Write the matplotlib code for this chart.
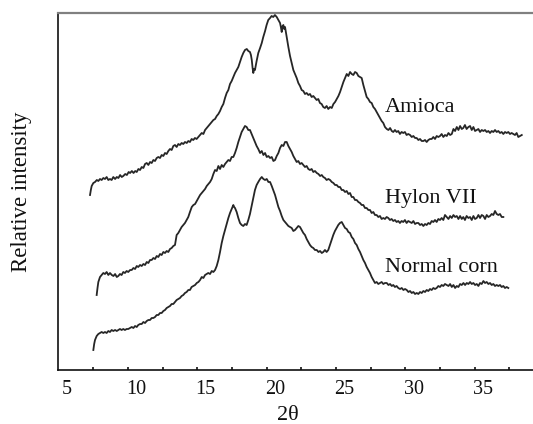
import matplotlib
matplotlib.use("Agg")
import matplotlib.pyplot as plt
import numpy as np

# ---------------- data: (2θ, intensity) ----------------
amioca = [
    (6.66, 175), (6.72, 180), (6.78, 184), (6.90, 187), (7.02, 188), (7.15, 190), (7.26, 189),
    (7.38, 191), (7.50, 190), (7.62, 192), (7.74, 191), (7.86, 193), (7.98, 190), (8.10, 191),
    (8.22, 190), (8.34, 193), (8.47, 191), (8.59, 193), (8.71, 192), (8.83, 195), (8.95, 193),
    (9.06, 194), (9.20, 196), (9.32, 195), (9.45, 198), (9.55, 197), (9.68, 199), (9.80, 197),
    (9.92, 199), (10.03, 198), (10.15, 201), (10.27, 200), (10.39, 203), (10.51, 202),
    (10.63, 206), (10.75, 207), (10.87, 205), (10.99, 208), (11.11, 207), (11.23, 210),
    (11.35, 209), (11.47, 212), (11.59, 213), (11.71, 212), (11.83, 215), (11.95, 214),
    (12.07, 217), (12.19, 216), (12.31, 219), (12.43, 221), (12.55, 220), (12.67, 224),
    (12.79, 225), (12.91, 223), (13.03, 226), (13.15, 225), (13.27, 227), (13.39, 226),
    (13.51, 228), (13.64, 227), (13.75, 229), (13.87, 228), (13.99, 231), (14.11, 230),
    (14.23, 232), (14.35, 231), (14.47, 233), (14.60, 235), (14.72, 237), (14.84, 236),
    (14.96, 240), (15.08, 242), (15.20, 244), (15.32, 246), (15.44, 248), (15.56, 250),
    (15.68, 251), (15.80, 254), (15.92, 256), (16.04, 259), (16.16, 263), (16.28, 266),
    (16.40, 272), (16.52, 277), (16.64, 280), (16.76, 286), (16.88, 289), (17.00, 293),
    (17.12, 297), (17.24, 300), (17.36, 303), (17.48, 308), (17.60, 313), (17.72, 317),
    (17.84, 320), (17.97, 321), (18.08, 319), (18.20, 318), (18.27, 315), (18.33, 310),
    (18.39, 302), (18.44, 297), (18.50, 301), (18.56, 300), (18.68, 309), (18.80, 317),
    (18.93, 322), (19.05, 327), (19.16, 333), (19.29, 339), (19.40, 345), (19.52, 350),
    (19.65, 352), (19.76, 354), (19.88, 353), (20.00, 355), (20.13, 353), (20.25, 350),
    (20.37, 347), (20.43, 343), (20.49, 338), (20.55, 344), (20.61, 345), (20.67, 341),
    (20.73, 343), (20.85, 333), (20.97, 323), (21.09, 314), (21.21, 307), (21.33, 300),
    (21.45, 296), (21.57, 292), (21.69, 287), (21.81, 284), (21.93, 280), (22.05, 279),
    (22.17, 276), (22.29, 277), (22.41, 275), (22.53, 276), (22.65, 273), (22.77, 274),
    (22.89, 272), (23.01, 270), (23.13, 271), (23.25, 267), (23.37, 266), (23.49, 263),
    (23.61, 262), (23.73, 264), (23.85, 261), (23.98, 263), (24.10, 262), (24.22, 266),
    (24.34, 268), (24.46, 271), (24.58, 274), (24.70, 278), (24.82, 283), (24.94, 288),
    (25.06, 292), (25.18, 296), (25.30, 294), (25.42, 298), (25.54, 296), (25.66, 295),
    (25.78, 298), (25.90, 297), (26.02, 294), (26.14, 293), (26.26, 292), (26.38, 285),
    (26.50, 279), (26.62, 273), (26.74, 271), (26.86, 268), (26.98, 267), (27.10, 263),
    (27.22, 261), (27.34, 258), (27.46, 255), (27.58, 252), (27.70, 249), (27.82, 247),
    (27.94, 243), (28.07, 241), (28.19, 240), (28.31, 242), (28.43, 239), (28.54, 238),
    (28.66, 240), (28.78, 238), (28.90, 239), (29.02, 236), (29.14, 238), (29.26, 237),
    (29.38, 238), (29.50, 235), (29.62, 236), (29.75, 235), (29.87, 233), (29.99, 234),
    (30.11, 232), (30.23, 232), (30.35, 230), (30.47, 231), (30.59, 229), (30.71, 229),
    (30.83, 230), (30.95, 228), (31.07, 230), (31.19, 231), (31.31, 231), (31.43, 233),
    (31.55, 231), (31.67, 234), (31.79, 233), (31.91, 234), (32.03, 236), (32.15, 233),
    (32.27, 235), (32.40, 234), (32.52, 237), (32.64, 235), (32.76, 236), (32.88, 241),
    (33.00, 239), (33.12, 243), (33.24, 240), (33.36, 244), (33.48, 241), (33.59, 242),
    (33.71, 245), (33.83, 241), (33.96, 243), (34.08, 244), (34.20, 240), (34.32, 243),
    (34.44, 239), (34.56, 240), (34.68, 241), (34.80, 238), (34.92, 240), (35.04, 239),
    (35.16, 240), (35.28, 238), (35.40, 239), (35.52, 237), (35.64, 239), (35.76, 238),
    (35.88, 240), (36.00, 238), (36.12, 239), (36.24, 237), (36.36, 238), (36.48, 236),
    (36.60, 238), (36.72, 237), (36.84, 238), (36.96, 236), (37.08, 237), (37.20, 236),
    (37.32, 235), (37.44, 237), (37.56, 233), (37.68, 234), (37.81, 235),
]

hylon = [
    (7.14, 75), (7.20, 82), (7.26, 88), (7.38, 93), (7.50, 95), (7.62, 97), (7.74, 96),
    (7.86, 98), (7.98, 95), (8.10, 97), (8.23, 95), (8.35, 94), (8.47, 96), (8.59, 93),
    (8.70, 94), (8.82, 96), (8.94, 95), (9.06, 98), (9.18, 97), (9.30, 99), (9.42, 98),
    (9.55, 100), (9.67, 100), (9.79, 102), (9.91, 101), (10.03, 104), (10.14, 103),
    (10.27, 105), (10.39, 104), (10.51, 106), (10.63, 105), (10.75, 108), (10.87, 107),
    (10.99, 110), (11.11, 110), (11.23, 112), (11.35, 111), (11.47, 114), (11.59, 113),
    (11.71, 116), (11.83, 115), (11.95, 118), (12.07, 117), (12.19, 119), (12.31, 118),
    (12.43, 121), (12.55, 122), (12.67, 124), (12.79, 125), (12.85, 130), (12.91, 135),
    (13.03, 137), (13.15, 140), (13.27, 143), (13.39, 145), (13.51, 147), (13.63, 150),
    (13.75, 153), (13.87, 158), (14.00, 163), (14.12, 165), (14.24, 166), (14.36, 169),
    (14.48, 172), (14.60, 175), (14.72, 177), (14.84, 179), (14.96, 181), (15.08, 184),
    (15.20, 186), (15.32, 188), (15.44, 191), (15.56, 196), (15.68, 200), (15.80, 199),
    (15.92, 204), (16.04, 201), (16.16, 205), (16.28, 203), (16.40, 206), (16.52, 208),
    (16.64, 210), (16.76, 209), (16.88, 213), (17.00, 213), (17.12, 217), (17.24, 222),
    (17.36, 228), (17.48, 233), (17.60, 238), (17.72, 241), (17.84, 244), (17.96, 243),
    (18.08, 240), (18.20, 240), (18.32, 236), (18.44, 232), (18.56, 228), (18.68, 224),
    (18.80, 221), (18.93, 217), (19.05, 219), (19.17, 215), (19.29, 217), (19.41, 213),
    (19.53, 214), (19.65, 212), (19.77, 213), (19.89, 209), (20.01, 210), (20.13, 214),
    (20.25, 217), (20.37, 222), (20.49, 225), (20.61, 224), (20.73, 228), (20.85, 228),
    (20.97, 224), (21.09, 221), (21.21, 218), (21.33, 214), (21.45, 211), (21.57, 208),
    (21.69, 209), (21.81, 206), (21.93, 207), (22.05, 205), (22.17, 203), (22.29, 204),
    (22.41, 201), (22.53, 200), (22.65, 201), (22.77, 198), (22.89, 199), (23.02, 197),
    (23.14, 196), (23.26, 194), (23.38, 195), (23.49, 193), (23.61, 192), (23.73, 190),
    (23.86, 191), (23.98, 190), (24.10, 188), (24.22, 187), (24.34, 185), (24.46, 185),
    (24.58, 183), (24.70, 183), (24.82, 180), (24.94, 180), (25.06, 178), (25.18, 179),
    (25.30, 176), (25.42, 177), (25.54, 173), (25.66, 173), (25.78, 170), (25.90, 170),
    (26.02, 168), (26.14, 167), (26.26, 165), (26.38, 165), (26.50, 162), (26.62, 162),
    (26.74, 160), (26.86, 160), (26.98, 157), (27.10, 158), (27.22, 155), (27.34, 155),
    (27.46, 153), (27.58, 154), (27.70, 151), (27.82, 152), (27.94, 151), (28.06, 153),
    (28.18, 152), (28.30, 150), (28.42, 151), (28.54, 149), (28.66, 150), (28.78, 148),
    (28.90, 149), (29.02, 147), (29.14, 149), (29.26, 148), (29.38, 150), (29.50, 147),
    (29.62, 149), (29.75, 148), (29.87, 147), (29.99, 149), (30.11, 146), (30.23, 147),
    (30.35, 147), (30.47, 145), (30.59, 146), (30.71, 144), (30.83, 146), (30.95, 145),
    (31.07, 147), (31.19, 146), (31.31, 149), (31.43, 148), (31.55, 150), (31.67, 148),
    (31.79, 151), (31.91, 150), (32.03, 152), (32.15, 150), (32.27, 155), (32.40, 153),
    (32.52, 151), (32.64, 154), (32.76, 152), (32.88, 155), (33.00, 153), (33.12, 154),
    (33.24, 151), (33.36, 154), (33.48, 151), (33.59, 153), (33.71, 150), (33.83, 154),
    (33.96, 152), (34.08, 153), (34.20, 150), (34.32, 154), (34.44, 151), (34.56, 152),
    (34.68, 155), (34.80, 152), (34.92, 155), (35.04, 154), (35.16, 151), (35.28, 155),
    (35.40, 153), (35.52, 154), (35.64, 156), (35.76, 155), (35.88, 159), (36.00, 156),
    (36.12, 155), (36.24, 156), (36.36, 153), (36.48, 153),
]

normal_corn = [
    (6.90, 20), (6.96, 26), (7.02, 30), (7.14, 34), (7.26, 36), (7.38, 37), (7.50, 38),
    (7.62, 37), (7.74, 38), (7.86, 37), (7.98, 39), (8.10, 38), (8.22, 40), (8.34, 39),
    (8.47, 40), (8.59, 39), (8.70, 40), (8.82, 41), (8.94, 40), (9.06, 41), (9.18, 40),
    (9.30, 41), (9.42, 41), (9.55, 42), (9.67, 43), (9.79, 42), (9.91, 44), (10.03, 43),
    (10.14, 45), (10.27, 46), (10.39, 46), (10.51, 48), (10.63, 47), (10.75, 49),
    (10.87, 50), (10.99, 50), (11.11, 52), (11.23, 52), (11.35, 53), (11.47, 55),
    (11.59, 55), (11.71, 57), (11.83, 57), (11.95, 59), (12.07, 60), (12.19, 62),
    (12.31, 63), (12.43, 64), (12.55, 66), (12.67, 66), (12.79, 68), (12.91, 70),
    (13.03, 71), (13.15, 72), (13.27, 74), (13.39, 75), (13.51, 77), (13.63, 78),
    (13.75, 80), (13.87, 80), (13.99, 83), (14.11, 84), (14.24, 85), (14.36, 87),
    (14.48, 88), (14.60, 90), (14.72, 93), (14.84, 92), (14.96, 95), (15.08, 96),
    (15.19, 97), (15.32, 96), (15.44, 99), (15.56, 98), (15.68, 100), (15.80, 104),
    (15.92, 110), (16.04, 118), (16.16, 127), (16.28, 134), (16.40, 140), (16.52, 146),
    (16.64, 152), (16.76, 157), (16.88, 161), (17.00, 165), (17.06, 163), (17.12, 162),
    (17.24, 158), (17.36, 152), (17.48, 147), (17.60, 145), (17.72, 144), (17.84, 146),
    (17.96, 145), (18.08, 150), (18.20, 156), (18.32, 164), (18.44, 172), (18.56, 180),
    (18.68, 185), (18.80, 188), (18.93, 191), (19.05, 193), (19.17, 191), (19.29, 190),
    (19.41, 191), (19.53, 188), (19.65, 188), (19.77, 184), (19.88, 180), (20.01, 175),
    (20.13, 169), (20.25, 163), (20.37, 159), (20.49, 154), (20.61, 150), (20.73, 148),
    (20.85, 146), (20.97, 144), (21.09, 143), (21.21, 142), (21.33, 139), (21.45, 140),
    (21.57, 142), (21.69, 144), (21.81, 143), (21.93, 140), (22.05, 137), (22.17, 135),
    (22.29, 131), (22.41, 128), (22.53, 125), (22.65, 123), (22.77, 122), (22.89, 120),
    (23.02, 120), (23.14, 118), (23.26, 119), (23.38, 117), (23.49, 118), (23.61, 120),
    (23.73, 118), (23.85, 120), (23.97, 125), (24.09, 130), (24.21, 135), (24.33, 139),
    (24.45, 142), (24.57, 145), (24.69, 147), (24.82, 148), (24.94, 145), (25.06, 142),
    (25.18, 141), (25.30, 138), (25.42, 137), (25.54, 133), (25.66, 131), (25.78, 127),
    (25.90, 125), (26.02, 121), (26.14, 118), (26.26, 114), (26.38, 110), (26.50, 107),
    (26.62, 103), (26.74, 100), (26.86, 97), (26.98, 93), (27.10, 90), (27.22, 87),
    (27.34, 88), (27.46, 86), (27.58, 87), (27.70, 88), (27.82, 86), (27.94, 87),
    (28.07, 87), (28.19, 85), (28.31, 86), (28.43, 84), (28.54, 85), (28.66, 83),
    (28.78, 84), (28.90, 82), (29.03, 81), (29.15, 82), (29.27, 80), (29.39, 81),
    (29.51, 80), (29.63, 78), (29.75, 79), (29.87, 77), (29.99, 78), (30.11, 76),
    (30.23, 77), (30.35, 76), (30.47, 78), (30.59, 77), (30.71, 79), (30.83, 78),
    (30.95, 80), (31.07, 79), (31.19, 81), (31.31, 80), (31.43, 82), (31.55, 81),
    (31.67, 82), (31.79, 84), (31.91, 83), (32.03, 85), (32.15, 84), (32.27, 86),
    (32.40, 85), (32.52, 84), (32.64, 86), (32.76, 83), (32.88, 85), (33.00, 82),
    (33.12, 84), (33.24, 83), (33.36, 86), (33.48, 85), (33.60, 87), (33.72, 85),
    (33.84, 87), (33.96, 86), (34.08, 88), (34.20, 86), (34.32, 87), (34.44, 85),
    (34.56, 86), (34.68, 84), (34.80, 87), (34.92, 86), (35.04, 89), (35.16, 87),
    (35.28, 88), (35.40, 86), (35.52, 87), (35.64, 85), (35.76, 86), (35.88, 84),
    (36.00, 85), (36.12, 84), (36.24, 85), (36.36, 83), (36.48, 84), (36.60, 82),
    (36.72, 83), (36.84, 82),
]

series_names = ["Amioca", "Hylon VII", "Normal corn"]
x_tick_labels = [5, 10, 15, 20, 25, 30, 35]

# ---------------- figure ----------------
fig = plt.figure(figsize=(5.33, 4.24), dpi=100)
ax = fig.add_axes([58 / 533, 1 - 370 / 424, 475 / 533, 357.3 / 424])

line_kw = dict(color="#262626", lw=1.3, solid_joinstyle="round")
for series in (amioca, hylon, normal_corn):
    xs, ys = zip(*series)
    ax.plot(xs, ys, **line_kw)

ax.set_xlim(4.35, 38.62)
ax.set_ylim(0, 357.3)

serif = ["Liberation Serif", "DejaVu Serif"]

# curve labels
label_y = [258.5, 167, 98]
for name, yy in zip(series_names, label_y):
    ax.text(27.94, yy, name, family=serif, fontsize=16, va="baseline", ha="left",
            color="#111111")

# axes styling
for s in ["left", "bottom"]:
    ax.spines[s].set_color("#111111")
    ax.spines[s].set_linewidth(1.2)
ax.spines["top"].set_color("#808080")
ax.spines["top"].set_linewidth(1.6)
ax.spines["right"].set_visible(False)

ax.set_yticks([])
ax.set_xticks(x_tick_labels)
ax.set_xticklabels([str(v) for v in x_tick_labels], family=serif, fontsize=14.5)
ax.tick_params(axis="x", which="major", length=0, pad=7, colors="#111111")
ax.set_xticks(np.arange(6.9, 38, 2.5), minor=True)
ax.tick_params(axis="x", which="minor", direction="in", length=2.5, width=1.2,
               color="#111111")

ax.text(0.485, -0.141, "2θ", transform=ax.transAxes, family=serif, fontsize=16,
        ha="center", va="baseline", color="#111111")
ax.text(-0.0758, 0.5, "Relative intensity", transform=ax.transAxes, family=serif,
        fontsize=16.5, rotation=90, ha="center", va="center", color="#111111")

fig.savefig("out.png", dpi=100)
